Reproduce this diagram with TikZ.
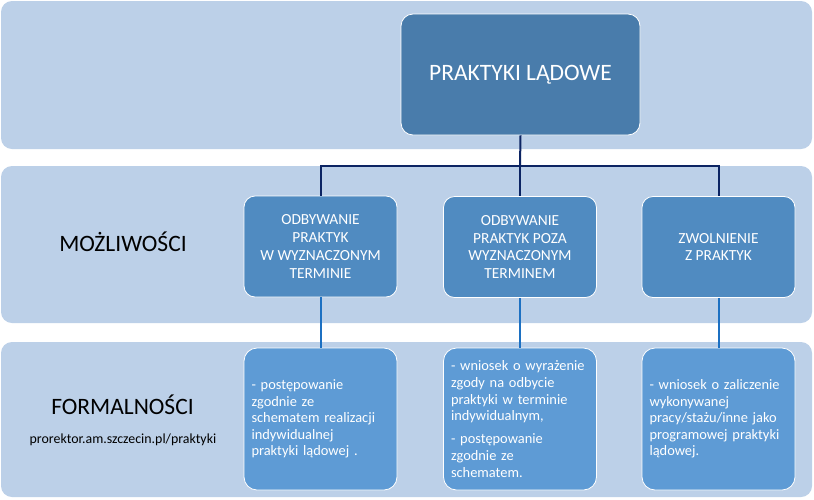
\documentclass[tikz,border=0pt]{standalone}
\usepackage{fontspec}
\setmainfont{Carlito}
\definecolor{bandc}{HTML}{BCD0E8}
\definecolor{topc}{HTML}{497CAB}
\definecolor{midc}{HTML}{508BC1}
\definecolor{botc}{HTML}{5E9BD5}
\definecolor{navy}{HTML}{0C2463}
\definecolor{blueln}{HTML}{1C70C2}
\tikzset{
  band/.style={fill=bandc, draw=none, rounded corners=11pt, minimum width=811pt, inner sep=0pt},
  topbox/.style={fill=topc, draw=white, line width=0.8pt, rounded corners=12pt, minimum width=239pt, minimum height=121pt, inner sep=0pt, text=white, font=\fontsize{23.5}{28}\selectfont},
  midbox/.style={fill=midc, draw=white, line width=0.8pt, rounded corners=11pt, minimum width=153pt, minimum height=101pt, inner sep=0pt, text=white, align=center, font=\fontsize{15.4}{17.8}\selectfont},
  botbox/.style={fill=botc, draw=white, line width=0.8pt, rounded corners=13pt, minimum width=153pt, minimum height=142pt, inner sep=0pt, text=white},
  bottext/.style={text=white, align=left, text width=138pt, inner sep=0pt, font=\fontsize{14.4}{16.6}\selectfont},
  rowlabel/.style={text=black, anchor=base, font=\fontsize{23.5}{28}\selectfont},
  upper/.style={draw=navy, line width=2pt},
  lower/.style={draw=blueln, line width=2pt}
}
\begin{document}
\begin{tikzpicture}[x=1pt,y=-1pt]
\useasboundingbox (0,0) rectangle (814,499);
\fill[white] (0,0) rectangle (814,499);
% bands
\node[band, minimum height=148pt] (band1) at (406.5,75) {};
\node[band, minimum height=157pt] (band2) at (406.5,244.5) {};
\node[band, minimum height=155pt] (band3) at (406.5,419.5) {};
% labels
\node[rowlabel] (lab2) at (123,251) {MOŻLIWOŚCI};
\node[rowlabel] (lab3) at (122.5,414) {FORMALNOŚCI};
\node[text=black, anchor=base, font=\fontsize{13.9}{16}\selectfont] (url) at (123,443) {prorektor.am.szczecin.pl/praktyki};
% top
\node[topbox] (top) at (520.5,74.5) {PRAKTYKI LĄDOWE};
% middle boxes
\node[midbox] (m1) at (320.5,246.5) {ODBYWANIE\\PRAKTYK\\W WYZNACZONYM\\TERMINIE};
\node[midbox] (m2) at (520,247) {ODBYWANIE\\PRAKTYK POZA\\WYZNACZONYM\\TERMINEM};
\node[midbox] (m3) at (718.5,247) {ZWOLNIENIE\\Z PRAKTYK};
% bottom boxes
\node[botbox] (f1) at (320.5,419) {};
\node[botbox] (f2) at (520,419) {};
\node[botbox] (f3) at (718.5,419) {};
\node[bottext] (t1) at (f1.center) {- postępowanie\\zgodnie ze\\schematem realizacji\\indywidualnej\\praktyki lądowej .};
\node[bottext] (t2) at (f2.center) {- wniosek o wyrażenie\\zgody na odbycie\\praktyki w terminie\\indywidualnym,\\[6.5pt]- postępowanie\\zgodnie ze\\schematem.};
\node[bottext] (t3) at (f3.center) {- wniosek o zaliczenie\\wykonywanej\\pracy/stażu/inne jako\\programowej praktyki\\lądowej.};
% connectors
\coordinate (j) at (520,166);
\draw[upper] (top.south) -- (j);
\draw[upper] (j) -- (m2.north);
\draw[upper] (j) -| (m1.north);
\draw[upper] (j) -| (m3.north);
\draw[lower] (m1.south) -- (f1.north);
\draw[lower] (m2.south) -- (f2.north);
\draw[lower] (m3.south) -- (f3.north);
\end{tikzpicture}
\end{document}
